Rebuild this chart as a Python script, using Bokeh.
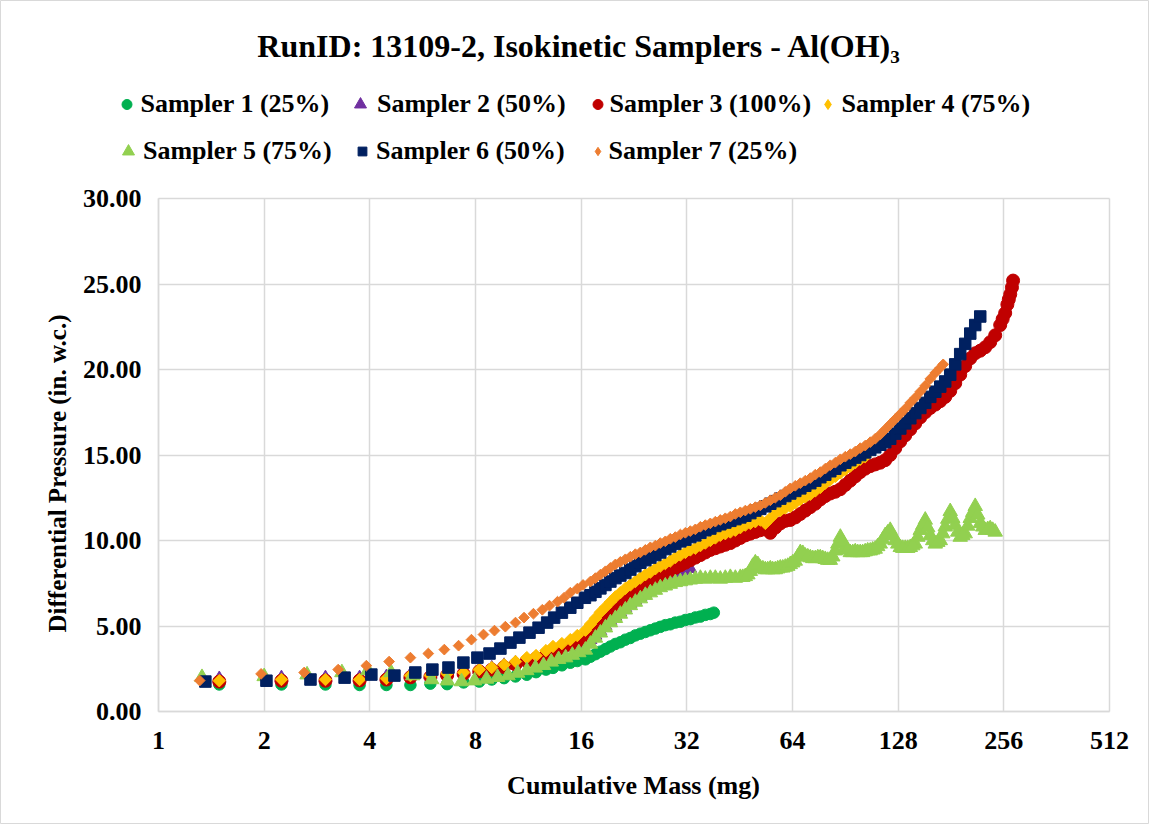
import math
from bokeh.plotting import figure
from bokeh.models import (FixedTicker, NumeralTickFormatter, BasicTickFormatter, Legend,
                          LegendItem, Label, Range1d)
from bokeh.embed import file_html
from bokeh.resources import INLINE

# ---------------- data (cumulative mass in mg, differential pressure in in. w.c.) -------------
# early readings shared by samplers 1-4
mass_a = [1.49, 2.24, 2.99, 3.74, 4.46, 5.22, 5.95, 6.64, 7.40, 8.20,
          8.90, 9.65, 10.4, 11.2, 11.9, 12.7, 13.3, 14.1, 14.9, 15.6]
# later readings (mass values of the dense part of the records)
mass_late = [16.45, 17.0, 17.57, 18.15, 18.76, 19.38, 20.03, 20.69, 21.38, 22.09,
             22.83, 23.59, 24.38, 25.19, 26.03, 26.89, 27.79, 28.71, 29.67, 30.67,
             31.69, 32.74, 33.84, 34.97, 36.13, 37.33, 38.58, 39.86, 41.19, 42.57,
             43.99, 45.45, 46.97, 48.53, 50.15, 51.81, 53.54, 55.33, 57.17, 59.08,
             61.05, 63.07, 65.18, 67.36, 69.60, 71.92, 74.32, 76.80, 79.35, 82.00,
             84.75, 87.60, 90.50, 93.50, 96.60, 99.80, 103.1, 106.6, 110.1, 113.8,
             117.6, 121.5, 125.6, 129.8, 134.1, 138.6, 143.2, 148.0, 152.9, 158.0,
             163.3, 168.7, 174.3, 180.1, 186.1, 192.3, 198.7, 205.4, 212.2, 219.3,
             226.6, 234.1, 241.9, 250.0, 254.0, 258.3, 262.0, 264.5, 267.0, 270.0, 272.0]

s1_mass = mass_a + mass_late[0:26] + [38.2]
s1_dp = [1.58, 1.58, 1.58, 1.55, 1.55, 1.55, 1.63, 1.60, 1.70, 1.75,
         1.87, 1.95, 2.05, 2.15, 2.30, 2.45, 2.55, 2.70, 2.85, 2.95,
         3.05, 3.20, 3.35, 3.50, 3.65, 3.80, 3.95, 4.05, 4.20, 4.30,
         4.45, 4.55, 4.65, 4.75, 4.85, 4.95, 5.05, 5.10, 5.20, 5.25,
         5.35, 5.40, 5.50, 5.55, 5.65, 5.70, 5.78]

s2_mass = mass_a + mass_late[0:22]
s2_dp = [1.93, 1.98, 1.98, 1.98, 2.04, 2.16, 2.16, 2.25, 2.30, 2.45,
         2.55, 2.70, 2.85, 3.00, 3.15, 3.30, 3.45, 3.60, 3.75, 3.90,
         3.95, 4.20, 4.45, 4.70, 5.00, 5.30, 5.55, 5.80, 6.05, 6.30,
         6.50, 6.70, 6.90, 7.10, 7.30, 7.45, 7.60, 7.75, 7.90, 8.05,
         8.20, 8.35]

s3_mass = mass_a + mass_late[0:91]
s3_dp = [1.75, 1.80, 1.80, 1.82, 1.87, 2.00, 2.02, 2.12, 2.20, 2.35,
         2.45, 2.60, 2.75, 2.95, 3.10, 3.30, 3.50, 3.70, 3.90, 4.10,
         4.35, 4.60, 4.90, 5.20, 5.50, 5.80, 6.05, 6.30, 6.55, 6.80,
         7.00, 7.20, 7.40, 7.60, 7.80, 7.95, 8.10, 8.25, 8.40, 8.55,
         8.70, 8.85, 9.00, 9.15, 9.30, 9.45, 9.55, 9.65, 9.75, 9.85,
         10.0, 10.15, 10.3, 10.4, 10.5, 10.6, 10.65, 10.45, 10.75, 11.0,
         11.15, 11.2, 11.35, 11.55, 11.75, 11.95, 12.15, 12.4, 12.6, 12.75,
         12.85, 13.0, 13.25, 13.5, 13.75, 14.0, 14.2, 14.35, 14.45, 14.55,
         14.7, 15.0, 15.4, 15.8, 16.15, 16.5, 16.85, 17.2, 17.5, 17.75,
         17.95, 18.15, 18.4, 18.75, 19.2, 19.7, 20.2, 20.65, 20.95, 21.1,
         21.3, 21.6, 22.0, 22.6, 22.95, 23.3, 23.8, 24.1, 24.4, 24.8, 25.2]

s4_mass = mass_a + mass_late[0:57]
s4_dp = [1.80, 1.87, 1.87, 1.87, 1.93, 2.10, 2.10, 2.22, 2.28, 2.45,
         2.57, 2.74, 2.92, 3.15, 3.27, 3.56, 3.80, 3.97, 4.20, 4.44,
         4.75, 5.10, 5.45, 5.80, 6.10, 6.40, 6.70, 6.95, 7.20, 7.40,
         7.60, 7.80, 8.00, 8.15, 8.35, 8.50, 8.65, 8.80, 9.00, 9.15,
         9.30, 9.45, 9.55, 9.70, 9.85, 10.0, 10.15, 10.3, 10.4, 10.5,
         10.6, 10.75, 10.9, 11.0, 11.1, 11.2, 11.0, 11.3, 11.6, 11.75,
         11.9, 12.0, 12.2, 12.4, 12.55, 12.7, 12.9, 13.1, 13.35, 13.55,
         13.75, 13.95, 14.15, 14.35, 14.55, 14.75, 14.9]

# sampler 5: main readings plus the extra readings in between on its noisy tail
s5_mass_tail = [46.2, 47.75, 49.3, 51.0, 52.7, 54.4, 56.2, 58.1, 60.05, 62.05,
                64.1, 66.25, 68.5, 70.75, 73.1, 75.55, 78.05, 80.65, 83.35, 86.15,
                89.05, 92.0, 95.05, 98.2, 101.4, 104.8, 108.3, 111.9, 115.7, 119.5,
                123.5, 127.7, 131.9, 136.3, 140.9, 145.6, 150.4, 155.4, 160.6, 166.0,
                171.5, 177.2, 183.1, 189.2, 195.5, 202.0, 208.8, 215.7, 222.9, 230.3, 238.0]
s5_dp_tail = [7.85, 8.0, 8.5, 8.6, 8.35, 8.3, 8.3, 8.35, 8.4, 8.5,
              8.7, 9.05, 9.25, 9.05, 8.95, 9.0, 8.95, 8.85, 9.05, 9.8,
              9.9, 9.45, 9.3, 9.3, 9.3, 9.4, 9.45, 9.65, 10.05, 10.45,
              10.3, 9.8, 9.55, 9.55, 9.7, 10.2, 10.9, 10.75, 10.0, 9.9,
              10.4, 11.25, 11.3, 10.5, 10.3, 10.85, 11.65, 11.5, 10.8, 10.65, 10.6]
s5_mass = [1.33, 2.00, 2.65, 3.33, 3.95, 4.60, 5.30, 6.00, 6.65, 7.30,
           7.95, 8.60, 9.25, 9.90, 10.55, 11.2, 11.85, 12.5, 13.15, 13.8,
           14.45, 15.1, 15.75] + mass_late[0:83] + s5_mass_tail
s5_dp = [2.00, 2.05, 2.15, 2.28, 2.40, 2.28, 2.10, 1.87, 1.80, 1.75,
         1.80, 1.90, 2.00, 2.10, 2.25, 2.40, 2.55, 2.70, 2.90, 3.05,
         3.15, 3.30, 3.45,
         3.60, 3.95, 4.30, 4.60, 4.90, 5.20, 5.45, 5.70, 5.95, 6.20,
         6.40, 6.60, 6.80, 6.95, 7.10, 7.25, 7.35, 7.45, 7.55, 7.60,
         7.65, 7.70, 7.75, 7.80, 7.75, 7.80, 7.80, 7.75, 7.80, 7.85,
         7.80, 7.85, 7.90, 8.20, 8.70, 8.40, 8.30, 8.35, 8.30, 8.40,
         8.45, 8.60, 8.80, 9.30, 9.10, 9.00, 8.95, 9.00, 8.90, 8.85,
         9.40, 10.2, 9.60, 9.30, 9.35, 9.30, 9.35, 9.40, 9.50, 9.80,
         10.3, 10.6, 10.0, 9.60, 9.55, 9.60, 9.80, 10.6, 11.2, 10.3,
         9.80, 10.0, 10.8, 11.7, 10.9, 10.2, 10.4, 11.3, 12.0, 11.0,
         10.6, 10.7, 10.5] + s5_dp_tail

s6_mass = [1.36, 2.03, 2.71, 3.39, 4.04, 4.70, 5.39, 6.03, 6.70, 7.39,
           8.10, 8.77, 9.42, 10.06, 10.67, 11.4, 12.1, 12.8, 13.4, 14.1,
           14.9, 15.6, 16.4] + mass_late[1:80]
s6_dp = [1.75, 1.80, 1.87, 1.98, 2.16, 2.10, 2.28, 2.45, 2.57, 2.86,
         3.15, 3.39, 3.68, 4.03, 4.32, 4.61, 4.90, 5.20, 5.49, 5.78,
         6.07, 6.36, 6.65,
         6.80, 7.00, 7.20, 7.40, 7.60, 7.80, 7.95, 8.10, 8.30, 8.50,
         8.70, 8.85, 9.00, 9.15, 9.30, 9.50, 9.65, 9.80, 9.95, 10.05,
         10.2, 10.3, 10.45, 10.6, 10.7, 10.85, 10.95, 11.05, 11.15, 11.25,
         11.35, 11.45, 11.6, 11.75, 11.85, 12.0, 12.15, 12.3, 12.45, 12.6,
         12.75, 12.9, 13.05, 13.2, 13.35, 13.5, 13.7, 13.85, 14.05, 14.2,
         14.4, 14.55, 14.7, 14.85, 15.0, 15.15, 15.3, 15.45, 15.6, 15.75,
         15.95, 16.25, 16.55, 16.85, 17.15, 17.45, 17.75, 18.05, 18.4, 18.7,
         19.0, 19.3, 19.7, 20.3, 20.9, 21.5, 22.1, 22.6, 23.1]

s7_mass = [1.31, 1.96, 2.60, 3.25, 3.91, 4.54, 5.22, 5.87, 6.52, 7.16,
           7.79, 8.43, 9.06, 9.73, 10.4, 11.0, 11.7, 12.4, 13.0, 13.7,
           14.3, 14.9, 15.6, 16.2] + mass_late[1:72] + [172.0]
s7_dp = [1.81, 2.20, 2.28, 2.45, 2.68, 2.92, 3.15, 3.39, 3.62, 3.85,
         4.20, 4.50, 4.73, 4.96, 5.20, 5.49, 5.72, 5.95, 6.19, 6.42,
         6.65, 6.95, 7.18, 7.40,
         7.60, 7.80, 8.00, 8.20, 8.40, 8.60, 8.75, 8.90, 9.05, 9.20,
         9.30, 9.45, 9.60, 9.70, 9.85, 9.95, 10.1, 10.2, 10.35, 10.45,
         10.55, 10.65, 10.8, 10.9, 11.0, 11.1, 11.2, 11.3, 11.4, 11.55,
         11.65, 11.75, 11.85, 11.95, 12.05, 12.2, 12.35, 12.5, 12.65, 12.85,
         13.05, 13.2, 13.35, 13.5, 13.65, 13.85, 14.0, 14.2, 14.4, 14.55,
         14.75, 14.9, 15.05, 15.2, 15.4, 15.55, 15.75, 15.95, 16.2, 16.5,
         16.8, 17.1, 17.4, 17.7, 18.05, 18.35, 18.7, 19.05, 19.45, 19.8,
         20.1, 20.3]

labels = ["Sampler 1 (25%)", "Sampler 2 (50%)", "Sampler 3 (100%)", "Sampler 4 (75%)",
          "Sampler 5 (75%)", "Sampler 6 (50%)", "Sampler 7 (25%)"]
colors = ["#00B050", "#7030A0", "#C00000", "#FFC000", "#92D050", "#002060", "#ED7D31"]
x_ticks = [1, 2, 4, 8, 16, 32, 64, 128, 256, 512]
y_ticks = [0, 5, 10, 15, 20, 25, 30]
X_MIN, X_MAX, Y_MIN, Y_MAX = 1, 512, 0, 30

for a, b in [(s1_mass, s1_dp), (s2_mass, s2_dp), (s3_mass, s3_dp), (s4_mass, s4_dp),
             (s5_mass, s5_dp), (s6_mass, s6_dp), (s7_mass, s7_dp)]:
    assert len(a) == len(b), (len(a), len(b))

# ---------------- layout geometry (pixels) ----------------
W, H = 1149, 824
FL, FR, FT, FB = 158, 1109, 198, 711   # plot area inside the canvas
FONT = "Liberation Serif"
DOUBLINGS = math.log2(X_MAX / X_MIN)


def at_x(px):
    return X_MIN * 2 ** (DOUBLINGS * (px - FL) / (FR - FL))


def at_y(py):
    return Y_MIN + (Y_MAX - Y_MIN) * (FB - py) / (FB - FT)


# the frame covers the whole canvas; the axes sit at fixed positions inside it
p = figure(width=W, height=H, x_axis_type="log",
           x_range=Range1d(at_x(0), at_x(W)), y_range=Range1d(at_y(H), at_y(0)),
           output_backend="svg", toolbar_location=None,
           min_border_left=0, min_border_right=0, min_border_top=0, min_border_bottom=0)
p.background_fill_color = "white"
p.border_fill_color = "white"
p.outline_line_color = "#D9D9D9"
p.outline_line_width = 1

xt = FixedTicker(ticks=x_ticks)
yt = FixedTicker(ticks=y_ticks)
p.xaxis.ticker = xt
p.xgrid.ticker = xt
p.yaxis.ticker = yt
p.ygrid.ticker = yt
p.xaxis.formatter = BasicTickFormatter(use_scientific=False)
p.yaxis.formatter = NumeralTickFormatter(format="0.00")
p.xaxis.fixed_location = Y_MIN
p.yaxis.fixed_location = X_MIN
p.xaxis.bounds = (X_MIN, X_MAX)
p.yaxis.bounds = (Y_MIN, Y_MAX)
for ax in (p.xaxis, p.yaxis):
    ax.major_tick_line_color = None
    ax.minor_tick_line_color = None
    ax.major_tick_out = 0
    ax.major_tick_in = 0
    ax.minor_tick_out = 0
    ax.minor_tick_in = 0
    ax.axis_line_color = "#D9D9D9"
    ax.axis_line_width = 1.5
    ax.major_label_text_font = FONT
    ax.major_label_text_font_style = "bold"
    ax.major_label_text_font_size = "26px"
    ax.major_label_text_color = "black"
p.xaxis.major_label_standoff = 20
p.yaxis.major_label_standoff = 17
for g in (p.xgrid, p.ygrid):
    g.grid_line_color = "#D9D9D9"
    g.grid_line_width = 1.5
    g.minor_grid_line_color = None
p.xgrid.bounds = (X_MIN, X_MAX)
p.ygrid.bounds = (Y_MIN, Y_MAX)
p.xgrid.cross_bounds = (Y_MIN, Y_MAX)
p.ygrid.cross_bounds = (X_MIN, X_MAX)

# legend-only diamond swatches (tiny, hidden under the first real marker of each series)
d4 = p.scatter(s4_mass[:1], s4_dp[:1], marker="diamond", size=1, fill_color=colors[3], line_color=colors[3])
d7 = p.scatter(s7_mass[:1], s7_dp[:1], marker="diamond", size=1, fill_color=colors[6], line_color=colors[6])

r1 = p.scatter(s1_mass, s1_dp, marker="circle", size=11.5, fill_color=colors[0], line_color=colors[0])
r2 = p.scatter(s2_mass, s2_dp, marker="triangle", size=13, fill_color=colors[1], line_color=colors[1])
r3 = p.scatter(s3_mass, s3_dp, marker="circle", size=13, fill_color=colors[2], line_color=colors[2])
r4 = p.scatter(s4_mass, s4_dp, marker="square", angle=math.pi / 4, size=8.8,
               fill_color=colors[3], line_color=colors[3])
r5 = p.scatter(s5_mass, s5_dp, marker="triangle", size=14.5, fill_color=colors[4], line_color=colors[4])
r6 = p.scatter(s6_mass, s6_dp, marker="square", size=11.5, fill_color=colors[5], line_color=colors[5])
r7 = p.scatter(s7_mass, s7_dp, marker="square", angle=math.pi / 4, size=7.6,
               fill_color=colors[6], line_color=colors[6])

# ---------------- legend: one entry each, placed like the reference ----------------
# (marker centre px x, centre px y, glyph box width, label standoff)
legend_pos = [(126, 104, 25, 2), (360, 104, 30, 2), (597, 104, 25, 0), (827, 104, 25, 2),
              (128, 151, 30, 0), (362, 151, 22, 3), (597, 151, 21, 1)]
GH = 32
for rend, lab, (cx, cy, gw, so) in zip([r1, r2, r3, d4, r5, r6, d7], labels, legend_pos):
    lg = Legend(items=[LegendItem(label=lab, renderers=[rend])],
                location=(cx - gw / 2, H - (cy + GH / 2)),
                glyph_width=gw, glyph_height=GH, label_height=GH, label_standoff=so,
                padding=0, margin=0, spacing=0,
                border_line_alpha=0, background_fill_alpha=0,
                label_text_font=FONT, label_text_font_style="bold",
                label_text_font_size="26px", label_text_color="black")
    p.add_layout(lg)

# ---------------- texts ----------------
p.add_layout(Label(x=at_x(579), y=at_y(45), text="RunID: 13109-2, Isokinetic Samplers - Al(OH)\u2083",
                   text_align="center", text_baseline="middle", text_font=FONT,
                   text_font_style="bold", text_font_size="32px", text_color="black"))
p.add_layout(Label(x=at_x(57), y=at_y(473), text="Differential Pressure (in. w.c.)", angle=math.pi / 2,
                   text_align="center", text_baseline="middle", text_font=FONT,
                   text_font_style="bold", text_font_size="25px", text_color="black"))
p.add_layout(Label(x=at_x(633), y=at_y(785), text="Cumulative Mass (mg)",
                   text_align="center", text_baseline="middle", text_font=FONT,
                   text_font_style="bold", text_font_size="26px", text_color="black"))

open("out.html", "w").write(file_html(p, INLINE))
